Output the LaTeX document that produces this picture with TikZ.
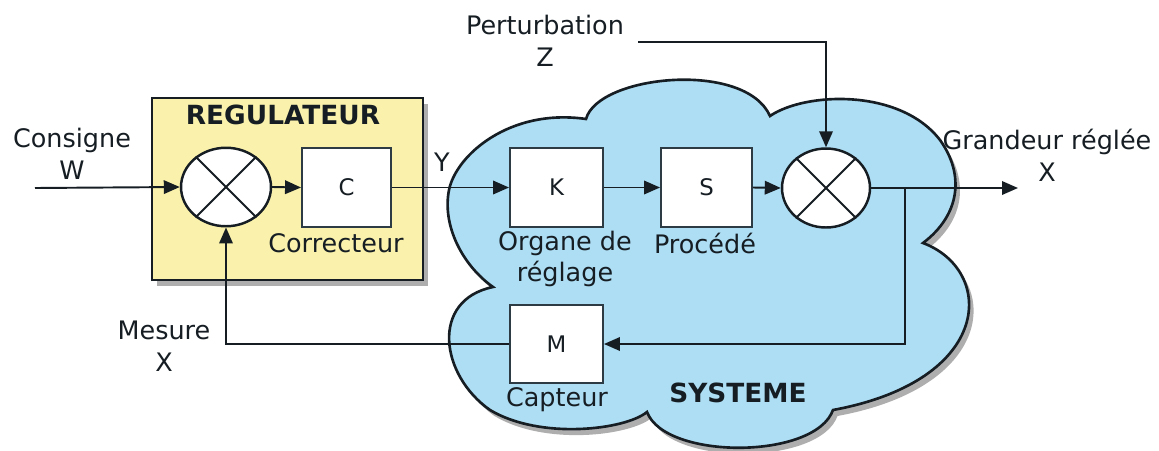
\documentclass[tikz,border=0pt]{standalone}
\usepackage{fontspec}
\setmainfont{DejaVu Sans}
\usetikzlibrary{arrows.meta,shapes.geometric,shadows}
\definecolor{cloudblue}{RGB}{174,222,244}
\definecolor{regyellow}{RGB}{250,242,172}
\definecolor{ink}{RGB}{22,30,36}
\definecolor{boxline}{RGB}{45,60,68}
\begin{document}
\begin{tikzpicture}[x=0.02cm,y=-0.02cm,
  wire/.style={draw=ink,line width=1.1pt},
  tip/.style={wire,-{Triangle[length=0.32cm,width=0.27cm]}},
  blockbox/.style={rectangle,draw=boxline,fill=white,line width=1.1pt,inner sep=0pt,
    minimum height=1.58cm,font=\fontsize{13}{15}\selectfont,text=ink},
  sumnode/.style={ellipse,draw=ink,fill=white,line width=1.4pt,inner sep=0pt,
    minimum width=1.8cm,minimum height=1.57cm},
  lbl/.style={align=center,inner sep=0pt,text=ink,font=\fontsize{14.5}{18}\selectfont},
  ttl/.style={inner sep=0pt,text=ink,font=\bfseries\fontsize{15}{18}\selectfont},
  shade/.style={drop shadow={shadow xshift=0.09cm,shadow yshift=-0.12cm,opacity=0.45,fill=black!70}}
]
\useasboundingbox (0,0) rectangle (1159,450);

% regulator box
\path[shade,fill=regyellow,draw=ink,line width=1.2pt] (152,98) rectangle (423,280);

% cloud (system)
\path[shade,fill=cloudblue,draw=ink,line width=1.5pt]
  (493,287) .. controls (462,265) and (442,225) .. (449,190)
  .. controls (456,155) and (510,108) .. (586,119)
  .. controls (598,75) and (745,60) .. (770,116)
  .. controls (805,92) and (900,88) .. (940,140)
  .. controls (965,175) and (960,215) .. (923,243)
  .. controls (995,270) and (995,380) .. (833,410)
  .. controls (815,460) and (665,460) .. (647,412)
  .. controls (625,430) and (540,440) .. (490,410)
  .. controls (440,375) and (430,300) .. (493,287) -- cycle;

% blocks
\node[sumnode] (s1) at (226,187) {};
\node[blockbox,minimum width=1.78cm] (C) at (346.5,187.5) {C};
\node[blockbox,minimum width=1.86cm] (K) at (556.5,187.5) {K};
\node[blockbox,minimum width=1.82cm] (S) at (706.5,187.5) {S};
\node[sumnode,minimum width=1.76cm,minimum height=1.58cm] (s2) at (826,188) {};
\node[blockbox,minimum width=1.86cm,minimum height=1.56cm] (M) at (556.5,344) {M};

\draw[wire] (s1.45) -- (s1.225) (s1.135) -- (s1.315);
\draw[wire] (s2.45) -- (s2.225) (s2.135) -- (s2.315);

% free ends
\coordinate (in) at (35,188);
\coordinate (out) at (1018,188);
\coordinate (br) at (905,188);
\coordinate (pz) at (638,42);

% connectors
\draw[tip] (in) -- (s1.west);
\draw[tip] (s1.east) -- (C.west);
\draw[tip] (C.east) -- (K.west);
\draw[tip] (K.east) -- (S.west);
\draw[tip] (S.east) -- (s2.west);
\draw[tip] (s2.east) -- (out);
\draw[tip] (br) |- (M.east);
\draw[tip] (M.west) -| (s1.south);
\draw[tip] (pz) -| (s2.north);

% labels
\node[ttl] (tReg) at (283,115) {REGULATEUR};
\node[ttl] (tSys) at (738,393) {SYSTEME};
\node[lbl] (lCons) at (72,154) {Consigne\\W};
\node[lbl] (lMes) at (164,346) {Mesure\\X};
\node[lbl] (lPert) at (545,41) {Perturbation\\Z};
\node[lbl] (lGr) at (1047,155) {Grandeur réglée\\X};
\node[lbl] (lY) at (442,162) {Y};
\node[lbl] (lCor) at (336,243) {Correcteur};
\node[lbl] (lOrg) at (565,259) {Organe de\\réglage};
\node[lbl] (lProc) at (705,243) {Procédé};
\node[lbl] (lCap) at (557,400) {Capteur};
\end{tikzpicture}
\end{document}
